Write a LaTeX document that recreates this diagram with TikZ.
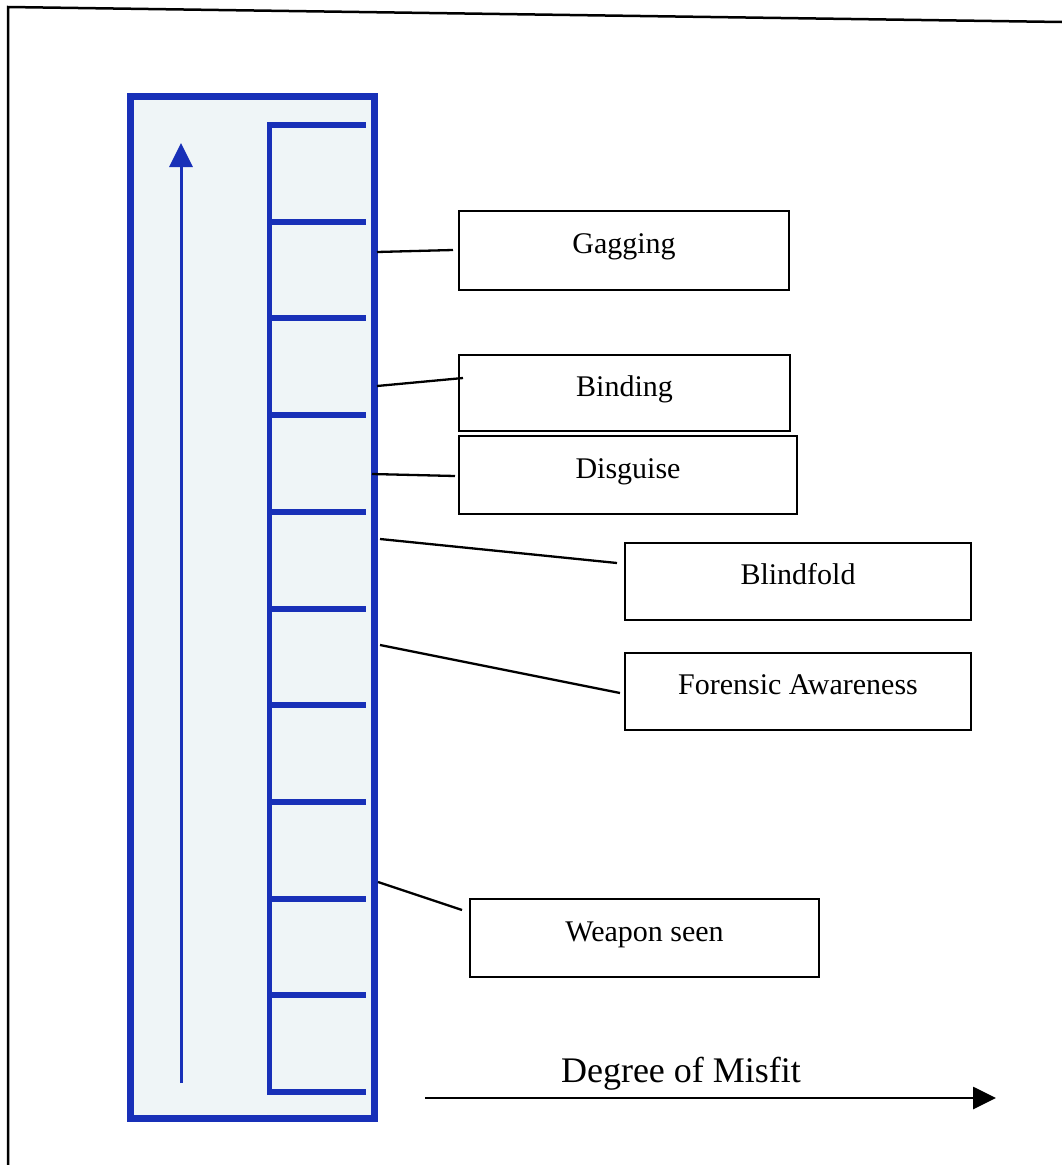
\documentclass[tikz,border=0pt]{standalone}
\usepackage{fontspec}
\setmainfont{Liberation Serif}
\usetikzlibrary{arrows.meta}
\definecolor{scaleblue}{RGB}{24,48,184}
\definecolor{marble}{RGB}{239,245,247}
\begin{document}
\begin{tikzpicture}[x=1pt,y=-1pt,
  labelbox/.style={draw=black, line width=2.3pt, inner sep=0pt, align=center,
                   font=\fontsize{30}{36}\selectfont},
  link/.style={draw=black, line width=2.3pt},
  rung/.style={draw=scaleblue, line width=6pt},
]
\useasboundingbox (0,0) rectangle (1062,1165);
\fill[white] (0,0) rectangle (1062,1165);

% page frame
\draw[line width=2.5pt] (8,1165) -- (8,7) -- (1062,22);

% scale panel
\draw[scaleblue, line width=7pt, fill=marble] (130.5,96.5) rectangle (374.5,1118.5);

% upward arrow inside the panel
\coordinate (up0) at (181,1083);
\coordinate (up1) at (181,143);
\draw[scaleblue, line width=3pt, -{Triangle[length=24pt,width=23pt]}] (up0) -- (up1);

% ladder with rungs
\draw[scaleblue, line width=5pt] (269.5,125) -- (269.5,1092);
\foreach \i in {0,...,10}{
  \draw[rung] (267,125+\i*96.7) -- (366,125+\i*96.7);
}

% labelled boxes
\node[labelbox, minimum width=330pt, text height=42.5pt, text depth=36.5pt] (gag)   at (624,250.5) {Gagging};
\node[labelbox, minimum width=331pt, text height=41pt,   text depth=35pt]   (bind)  at (624.5,393) {Binding};
\node[labelbox, minimum width=338pt, text height=42pt,   text depth=36pt]   (disg)  at (628,475)   {Disguise};
\node[labelbox, minimum width=346pt, text height=41.5pt, text depth=35.5pt] (blind) at (798,581.5) {Blindfold};
\node[labelbox, minimum width=346pt, text height=41.5pt, text depth=35.5pt] (foren) at (798,691.5) {Forensic Awareness};
\node[labelbox, minimum width=349pt, text height=42pt,   text depth=36pt]   (weap)  at (644.5,938) {Weapon seen};

% leader lines from the scale to the boxes
\coordinate (gagA)   at (377,252); \coordinate (gagB)   at (453,250);
\coordinate (bindA)  at (377,386); \coordinate (bindB)  at (463,378);
\coordinate (disgA)  at (372,474); \coordinate (disgB)  at (455,476);
\coordinate (blindA) at (380,539); \coordinate (blindB) at (617,563);
\coordinate (forenA) at (380,645); \coordinate (forenB) at (620,693);
\coordinate (weapA)  at (378,882); \coordinate (weapB)  at (462,910);
\draw[link] (gagA) -- (gagB);
\draw[link] (bindA) -- (bindB);
\draw[link] (disgA) -- (disgB);
\draw[link] (blindA) -- (blindB);
\draw[link] (forenA) -- (forenB);
\draw[link] (weapA) -- (weapB);

% misfit axis
\node[font=\fontsize{36}{43}\selectfont, anchor=base, inner sep=0pt] (misfit) at (681,1082) {Degree of Misfit};
\coordinate (m0) at (425,1098);
\coordinate (m1) at (996,1098);
\draw[line width=2.8pt, -{Triangle[length=23pt,width=22pt]}] (m0) -- (m1);
\end{tikzpicture}
\end{document}
